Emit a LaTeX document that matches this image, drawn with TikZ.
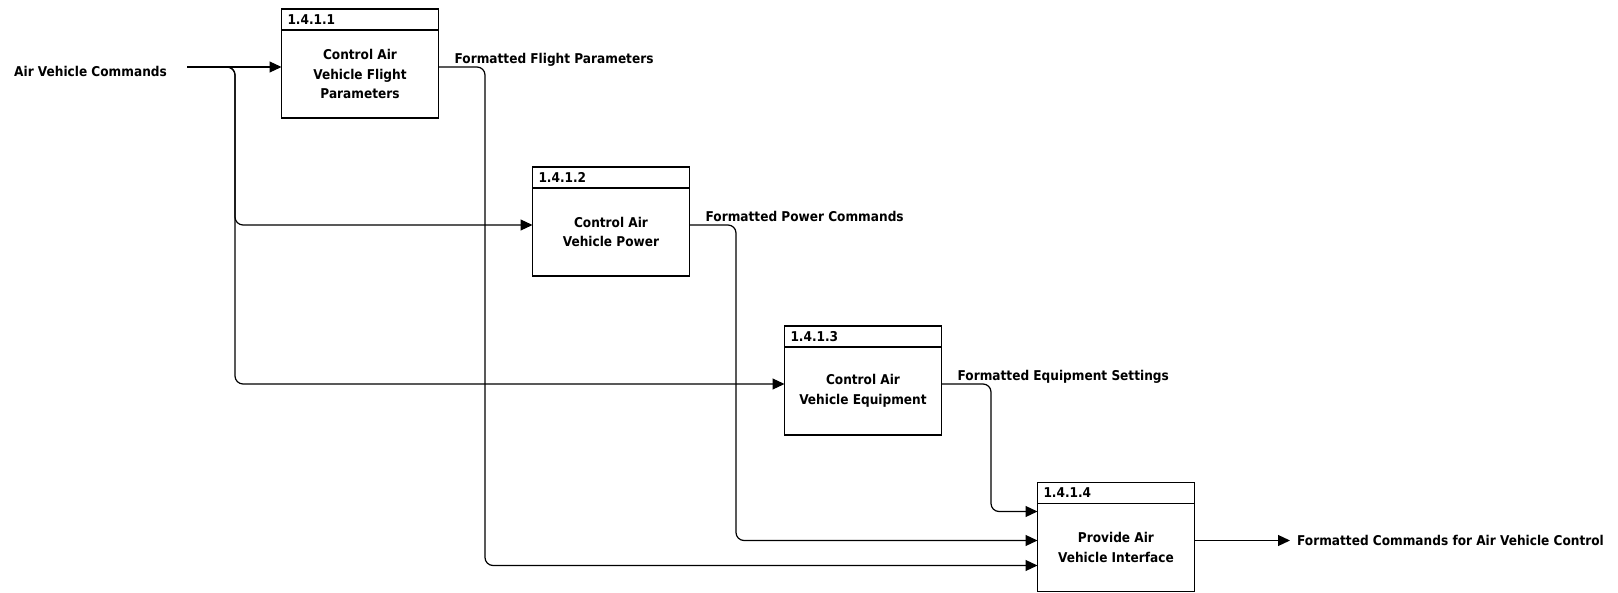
\documentclass[tikz,border=0pt]{standalone}
\usepackage{fontspec}
\setmainfont{DejaVu Sans Condensed}
\usepackage{tikz}
\usetikzlibrary{arrows.meta, positioning}

\begin{document}
\begin{tikzpicture}[>={Triangle[length=12pt, width=11pt]}, x=1pt, y=-1pt,
    every node/.style={font=\bfseries\fontsize{13.5}{19.5}\selectfont},
    proc/.style={draw, line width=1.2pt, outer sep=0pt, minimum width=157pt, minimum height=88pt, align=center},
    procid/.style={draw, line width=1.2pt, outer sep=0pt, minimum width=157pt, minimum height=21pt, inner xsep=6pt, inner ysep=0pt, text width=145pt, align=left},
    lbl/.style={inner sep=0pt},
    flow/.style={->, line width=1.2pt, rounded corners=8pt}]
    \useasboundingbox (0,0) rectangle (1618,593);

    % Các khối chức năng
    \node[proc] (p1) at (360,74) {Control Air\\Vehicle Flight\\Parameters};
    \node[procid, above=0pt of p1] (p1h) {1.4.1.1};
    \node[proc] (p2) at (611,232) {Control Air\\Vehicle Power};
    \node[procid, above=0pt of p2] (p2h) {1.4.1.2};
    \node[proc] (p3) at (863,391) {Control Air\\Vehicle Equipment};
    \node[procid, above=0pt of p3] (p3h) {1.4.1.3};
    \node[proc] (p4) at (1116,547.5) {Provide Air\\Vehicle Interface};
    \node[procid, above=0pt of p4] (p4h) {1.4.1.4};

    % Đầu vào
    \node[lbl, anchor=west] (src) at (14,71) {Air Vehicle Commands};
    \coordinate (in0) at (187,67);
    \coordinate (br) at (235,67);
    \draw[flow] (in0) -- ([yshift=7pt]p1.west);
    \draw[flow] (in0) -- (br) |- ([yshift=7pt]p2.west);
    \draw[flow] (in0) -- (br) |- ([yshift=7pt]p3.west);

    % Luồng ra các khối
    \draw[flow] ([yshift=7pt]p1.east) -- (485,67) |- ([yshift=-18pt]p4.west);
    \node[lbl, anchor=base west] (l1) at ([xshift=16pt, yshift=10pt]p1.east) {Formatted Flight Parameters};
    \draw[flow] ([yshift=7pt]p2.east) -- (736,225) |- ([yshift=7pt]p4.west);
    \node[lbl, anchor=base west] (l2) at ([xshift=16pt, yshift=10pt]p2.east) {Formatted Power Commands};
    \draw[flow] ([yshift=7pt]p3.east) -- (991,384) |- ([yshift=36pt]p4.west);
    \node[lbl, anchor=base west] (l3) at ([xshift=16pt, yshift=10pt]p3.east) {Formatted Equipment Settings};

    % Đầu ra
    \node[lbl, anchor=west] (dst) at (1297,540.5) {Formatted Commands for Air Vehicle Control};
    \draw[flow] ([yshift=7pt]p4.east) -- ([xshift=-7pt]dst.west);
\end{tikzpicture}
\end{document}
